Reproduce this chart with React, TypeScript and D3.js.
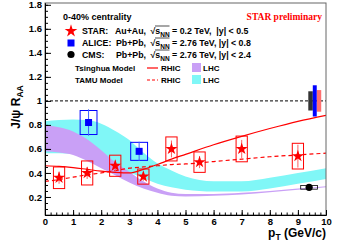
import React, { useEffect, useRef } from 'react';
import * as d3 from 'd3';

// STAR Au+Au 200 GeV, 0-40%
const starPt = [0.5, 1.5, 2.5, 3.5, 4.5, 5.5, 7, 9];
const starRaa = [0.36, 0.4, 0.46, 0.37, 0.6, 0.49, 0.6, 0.54];
const starStat = [0.05, 0.05, 0.045, 0.035, 0.07, 0.05, 0.075, 0.095];
const starSys = [0.09, 0.1, 0.088, 0.063, 0.1, 0.085, 0.107, 0.107];

// ALICE Pb+Pb 2.76 TeV
const alicePt = [1.55, 3.35];
const aliceRaa = [0.82, 0.58];
const aliceStat = [0.11, 0.08];
const aliceSys = [0.1, 0.075];

// CMS Pb+Pb 2.76 TeV
const cmsPt = [9.4];
const cmsRaa = [0.28];
const cmsSys = [0.015];

// global uncertainties near R_AA = 1
const globalNames = ['CMS', 'STAR', 'ALICE'];
const globalLo = [9.37, 9.67, 9.53];
const globalHi = [9.53, 9.83, 9.67];
const globalErr = [0.08, 0.09, 0.13];
const globalColors = ['#333333', '#ff7070', '#0000ff'];

// model curves
const modelPt = [0, 0.5, 1, 1.5, 2, 2.5, 3, 3.5, 4, 4.5, 5, 6, 7, 8, 9, 10];
const tsinghuaRhic = [0.46, 0.455, 0.445, 0.43, 0.415, 0.405, 0.4, 0.43, 0.47, 0.515, 0.555, 0.635, 0.705, 0.77, 0.83, 0.88];
const tamuRhic = [0.33, 0.345, 0.365, 0.385, 0.4, 0.42, 0.44, 0.45, 0.46, 0.47, 0.475, 0.495, 0.515, 0.535, 0.55, 0.565];
const tsinghuaLhcHi = [0.8, 0.78, 0.745, 0.68, 0.59, 0.49, 0.41, 0.33, 0.27, 0.235, 0.225, 0.225, 0.235, 0.25, 0.27, 0.29];
const tsinghuaLhcLo = [0.58, 0.57, 0.55, 0.5, 0.44, 0.38, 0.32, 0.27, 0.235, 0.21, 0.205, 0.21, 0.22, 0.24, 0.26, 0.28];
const tamuLhcHi = [0.83, 0.84, 0.845, 0.84, 0.81, 0.75, 0.675, 0.57, 0.48, 0.42, 0.37, 0.33, 0.33, 0.36, 0.4, 0.44];
const tamuLhcLo = [0.565, 0.565, 0.56, 0.54, 0.5, 0.45, 0.405, 0.355, 0.31, 0.28, 0.26, 0.245, 0.245, 0.27, 0.31, 0.35];

// axes
const xTicks = [0, 1, 2, 3, 4, 5, 6, 7, 8, 9, 10];
const xTickLabels = ['0', '1', '2', '3', '4', '5', '6', '7', '8', '9', '10'];
const yTicks = [0.2, 0.4, 0.6, 0.8, 1, 1.2, 1.4, 1.6, 1.8];
const yTickLabels = ['0.2', '0.4', '0.6', '0.8', '1', '1.2', '1.4', '1.6', '1.8'];

const W = 345;
const H = 248;
const RED = '#ff0000';
const PURPLE = '#c9a0f6';
const CYAN = '#80f7f7';
const FONT = '"Liberation Sans", Arial, Helvetica, sans-serif';

const App: React.FC = () => {
  const svgRef = useRef<SVGSVGElement>(null);

  useEffect(() => {
    if (!svgRef.current) return;
    const svg = d3.select(svgRef.current);
    svg.selectAll('*').remove();

    const x = d3.scaleLinear().domain([0, 10]).range([45, 326]);
    const y = d3.scaleLinear().domain([0.05, 1.815]).range([215, 3]);

    svg.append('defs').append('clipPath').attr('id', 'plot-clip')
      .append('rect').attr('x', 45).attr('y', 3).attr('width', 281).attr('height', 212);

    const plot = svg.append('g').attr('clip-path', 'url(#plot-clip)');

    // model bands
    const band = (lo: number[]) => d3.area<number>()
      .x((d, i) => x(modelPt[i]))
      .y0((d, i) => y(lo[i]))
      .y1(d => y(d))
      .curve(d3.curveMonotoneX);
    plot.append('path').datum(tamuLhcHi).attr('d', band(tamuLhcLo)).attr('fill', CYAN);
    plot.append('path').datum(tsinghuaLhcHi).attr('d', band(tsinghuaLhcLo)).attr('fill', PURPLE);

    // unity line
    plot.append('line')
      .attr('x1', x(0)).attr('x2', x(10)).attr('y1', y(1)).attr('y2', y(1))
      .attr('stroke', '#000').attr('stroke-width', 1).attr('stroke-dasharray', '3,2');

    // model lines
    const line = d3.line<number>().x((d, i) => x(modelPt[i])).y(d => y(d)).curve(d3.curveMonotoneX);
    plot.append('path').datum(tsinghuaRhic).attr('d', line).attr('fill', 'none')
      .attr('stroke', RED).attr('stroke-width', 1.2);
    plot.append('path').datum(tamuRhic).attr('d', line).attr('fill', 'none')
      .attr('stroke', RED).attr('stroke-width', 1.2).attr('stroke-dasharray', '4,3');

    // global uncertainty boxes
    globalNames.forEach((n, i) => {
      plot.append('rect')
        .attr('x', x(globalLo[i])).attr('width', x(globalHi[i]) - x(globalLo[i]))
        .attr('y', y(1 + globalErr[i])).attr('height', y(1 - globalErr[i]) - y(1 + globalErr[i]))
        .attr('fill', globalColors[i]);
    });

    // STAR
    starPt.forEach((p, i) => {
      plot.append('rect')
        .attr('x', x(p - 0.2)).attr('width', x(p + 0.2) - x(p - 0.2))
        .attr('y', y(starRaa[i] + starSys[i])).attr('height', y(starRaa[i] - starSys[i]) - y(starRaa[i] + starSys[i]))
        .attr('fill', 'none').attr('stroke', RED).attr('stroke-width', 1);
      plot.append('line')
        .attr('x1', x(p)).attr('x2', x(p))
        .attr('y1', y(starRaa[i] + starStat[i])).attr('y2', y(starRaa[i] - starStat[i]))
        .attr('stroke', '#ff6060').attr('stroke-width', 1);
      plot.append('path')
        .attr('d', d3.symbol(d3.symbolStar, 46)())
        .attr('transform', `translate(${x(p)},${y(starRaa[i])})`)
        .attr('fill', RED);
    });

    // ALICE
    alicePt.forEach((p, i) => {
      plot.append('rect')
        .attr('x', x(p - 0.3)).attr('width', x(p + 0.3) - x(p - 0.3))
        .attr('y', y(aliceRaa[i] + aliceSys[i])).attr('height', y(aliceRaa[i] - aliceSys[i]) - y(aliceRaa[i] + aliceSys[i]))
        .attr('fill', 'none').attr('stroke', '#0000ff').attr('stroke-width', 1);
      plot.append('line')
        .attr('x1', x(p)).attr('x2', x(p))
        .attr('y1', y(aliceRaa[i] + aliceStat[i])).attr('y2', y(aliceRaa[i] - aliceStat[i]))
        .attr('stroke', '#4060ff').attr('stroke-width', 1);
      plot.append('rect')
        .attr('x', x(p) - 3.5).attr('y', y(aliceRaa[i]) - 3.5)
        .attr('width', 7).attr('height', 7).attr('fill', '#0000ff');
    });

    // CMS
    cmsPt.forEach((p, i) => {
      plot.append('rect')
        .attr('x', x(p - 0.3)).attr('width', x(p + 0.3) - x(p - 0.3))
        .attr('y', y(cmsRaa[i] + cmsSys[i])).attr('height', y(cmsRaa[i] - cmsSys[i]) - y(cmsRaa[i] + cmsSys[i]))
        .attr('fill', 'none').attr('stroke', '#000').attr('stroke-width', 0.8);
      plot.append('circle')
        .attr('cx', x(p)).attr('cy', y(cmsRaa[i])).attr('r', 3.6).attr('fill', '#000');
    });

    // frame
    svg.append('rect').attr('x', 45).attr('y', 3).attr('width', 281).attr('height', 212)
      .attr('fill', 'none').attr('stroke', '#666').attr('stroke-width', 1);

    // axes
    const yAxis = d3.axisLeft(y).tickValues(yTicks)
      .tickFormat((d, i) => yTickLabels[i]).tickSizeInner(-6).tickSizeOuter(0).tickPadding(3);
    const yMinor = d3.axisLeft(y).tickValues(d3.range(0.05, 1.81, 0.05))
      .tickFormat(() => '').tickSizeInner(-3).tickSizeOuter(0);
    const xAxis = d3.axisBottom(x).tickValues(xTicks)
      .tickFormat((d, i) => xTickLabels[i]).tickSizeInner(-5).tickSizeOuter(0).tickPadding(3);
    const xMinor = d3.axisBottom(x).tickValues(d3.range(0, 10.01, 0.2))
      .tickFormat(() => '').tickSizeInner(-2.5).tickSizeOuter(0);

    [yMinor, yAxis].forEach(a => {
      svg.append('g').attr('transform', 'translate(45,0)').call(a as any)
        .call(g => g.selectAll('text').attr('font-family', FONT).attr('font-weight', 'bold').attr('font-size', 9.5).attr('fill', '#000'));
    });
    [xMinor, xAxis].forEach(a => {
      svg.append('g').attr('transform', 'translate(0,215)').call(a as any)
        .call(g => g.selectAll('text').attr('font-family', FONT).attr('font-weight', 'bold').attr('font-size', 9.5).attr('fill', '#000'));
    });
    svg.selectAll('.domain').attr('stroke', '#000');

    // axis titles
    const yTitle = svg.append('text')
      .attr('transform', 'translate(20,107) rotate(-90)')
      .attr('text-anchor', 'middle')
      .attr('font-family', FONT).attr('font-weight', 'bold').attr('font-size', 12);
    yTitle.append('tspan').text('J/ψ R');
    yTitle.append('tspan').attr('font-size', 8.5).attr('dy', 3).text('AA');

    const xTitle = svg.append('text')
      .attr('x', 326).attr('y', 237)
      .attr('text-anchor', 'end')
      .attr('font-family', FONT).attr('font-weight', 'bold').attr('font-size', 12);
    xTitle.append('tspan').text('p');
    xTitle.append('tspan').attr('font-size', 8.5).attr('dy', 3).text('T');
    xTitle.append('tspan').attr('dy', -3).text(' (GeV/c)');

    // legend
    const leg = svg.append('g').attr('font-family', FONT).attr('font-weight', 'bold').attr('fill', '#000');
    leg.append('text').attr('x', 63).attr('y', 19.5).attr('font-size', 9).text('0-40% centrality');

    svg.append('text').attr('x', 322).attr('y', 19.5).attr('text-anchor', 'end')
      .attr('font-family', '"Liberation Serif", "Times New Roman", serif').attr('font-weight', 'bold')
      .attr('font-size', 9.5).attr('fill', RED).text('STAR preliminary');

    const rows = [
      { name: 'STAR:', sys: 'Au+Au,', energy: '0.2 TeV,', rap: '|y| < 0.5' },
      { name: 'ALICE:', sys: 'Pb+Pb,', energy: '2.76 TeV,', rap: '|y| < 0.8' },
      { name: 'CMS:', sys: 'Pb+Pb,', energy: '2.76 TeV,', rap: '|y| < 2.4' },
    ];
    rows.forEach((r, i) => {
      const by = 34 + i * 12;
      leg.append('text').attr('x', 82).attr('y', by).attr('font-size', 8.8).text(r.name);
      leg.append('text').attr('x', 146).attr('y', by).attr('font-size', 8.8)
        .attr('text-anchor', 'end').text(r.sys);
      const t = leg.append('text').attr('y', by).attr('font-size', 8.8).style('white-space', 'pre');
      t.append('tspan').attr('x', 150.5).text('√s');
      t.append('tspan').attr('dy', 2.5).attr('font-size', 6.5).text('NN');
      t.append('tspan').attr('dy', -2.5).text(` = ${r.energy} ${i === 0 ? ' ' : ''}${r.rap}`);
      leg.append('line').attr('x1', 155).attr('x2', 169.5).attr('y1', by - 8).attr('y2', by - 8)
        .attr('stroke', '#000').attr('stroke-width', 0.7);
    });
    leg.append('path').attr('d', d3.symbol(d3.symbolStar, 50)())
      .attr('transform', 'translate(71,31)').attr('fill', RED);
    leg.append('rect').attr('x', 67.5).attr('y', 39.5).attr('width', 7).attr('height', 7).attr('fill', '#0000ff');
    leg.append('circle').attr('cx', 71).attr('cy', 54.5).attr('r', 3.6).attr('fill', '#000');

    const modelRows = [
      { name: 'Tsinghua Model', dash: null, fill: PURPLE },
      { name: 'TAMU Model', dash: '3,2', fill: CYAN },
    ];
    modelRows.forEach((m, i) => {
      const by = 71 + i * 12;
      leg.append('text').attr('x', 75).attr('y', by).attr('font-size', 8).text(m.name);
      leg.append('line').attr('x1', 147).attr('x2', 158).attr('y1', by - 3).attr('y2', by - 3)
        .attr('stroke', RED).attr('stroke-width', 1.2).attr('stroke-dasharray', m.dash);
      leg.append('text').attr('x', 161).attr('y', by).attr('font-size', 8).text('RHIC');
      leg.append('rect').attr('x', 192).attr('y', by - 8).attr('width', 9).attr('height', 9).attr('fill', m.fill);
      leg.append('text').attr('x', 203).attr('y', by).attr('font-size', 8).text('LHC');
    });
  }, []);

  return (
    <svg ref={svgRef} width={W} height={H}
      style={{ position: 'absolute', left: 0, top: 0, background: '#fff' }} />
  );
};

export default App;
